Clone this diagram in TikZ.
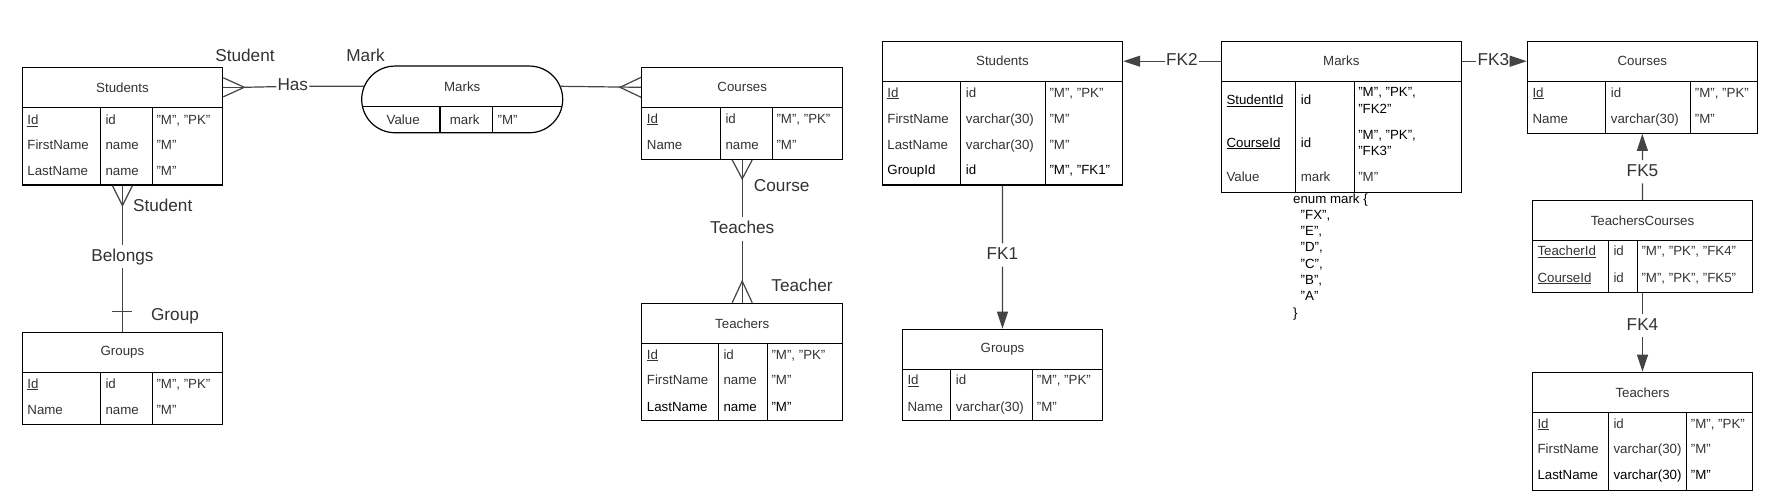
\documentclass[tikz,border=0pt]{standalone}
\usepackage{fontspec}
\setmainfont{Liberation Sans}
\usetikzlibrary{arrows.meta,shapes.misc,calc}
\definecolor{txt}{HTML}{333333}
\definecolor{lc}{HTML}{444444}
\newcommand\fsz{\fontsize{13.3}{16.3}\selectfont}
\newcommand\flb{\fontsize{17.2}{20}\selectfont}
\tikzset{
  hdr/.style={draw=black, line width=1.2pt, font=\fsz, text=txt, inner sep=0pt},
  bodybox/.style={draw=black, line width=1.2pt, inner sep=0pt},
  bline/.style={draw=black, line width=1.2pt},
  cell/.style={anchor=base west, font=\fsz, text=txt, inner sep=0pt},
  cellk/.style={anchor=base west, font=\fsz, text=black, inner sep=0pt},
  lbl/.style={font=\flb, text=txt, inner sep=0pt},
  onl/.style={font=\flb, text=txt, inner xsep=1pt, inner ysep=3pt, text height=13pt, text depth=4pt},
  conn/.style={draw=lc, line width=1.2pt},
  fk/.style={conn, -{Triangle[length=17pt,width=11pt]}},
}
% table: name, left, top, right, header bottom, bottom, div1, div2, title
\newcommand\tbl[9]{%
  \node[hdr, minimum width={#4-#2}, minimum height={#5-#3}] (#1h) at ({(#2+#4)/2},{(#3+#5)/2}) {#9};
  \node[bodybox, minimum width={#4-#2}, minimum height={#6-#5}] (#1b) at ({(#2+#4)/2},{(#5+#6)/2}) {};
  \draw[bline] (#7,#5) -- (#7,#6) (#8,#5) -- (#8,#6);
}
% row: name, y, x1, t1, x2, t2, x3, t3
\newcommand\rw[8]{%
  \node[cell] (#1a) at (#3,{#2+4.8}) {#4};
  \node[cell] (#1b) at (#5,{#2+4.8}) {#6};
  \node[cell] (#1c) at (#7,{#2+4.8}) {#8};
}
\newcommand\rwk[8]{%
  \node[cellk] (#1a) at (#3,{#2+4.8}) {#4};
  \node[cellk] (#1b) at (#5,{#2+4.8}) {#6};
  \node[cellk] (#1c) at (#7,{#2+4.8}) {#8};
}
\begin{document}
\begin{tikzpicture}[x=1pt,y=-1pt]
\useasboundingbox[fill=white] (0,0) rectangle (1781,501);

% ================= ER part =================
\tbl{sE}{22.2}{67.3}{222.7}{107.3}{185}{100.3}{152.3}{Students}
\rw{sE1}{120}{27.2}{\underline{Id}}{105.3}{id}{156.3}{"M", "PK"}
\rw{sE2}{145}{27.2}{FirstName}{105.3}{name}{156.3}{"M"}
\rw{sE3}{171}{27.2}{LastName}{105.3}{name}{156.3}{"M"}

\tbl{gE}{22.2}{332.7}{222.7}{372.3}{424.3}{100.3}{152.3}{Groups}
\rw{gE1}{383.3}{27.2}{\underline{Id}}{105.3}{id}{156.3}{"M", "PK"}
\rw{gE2}{409.3}{27.2}{Name}{105.3}{name}{156.3}{"M"}

\tbl{cE}{641.7}{67.3}{842.7}{107.3}{159.3}{720.3}{772.3}{Courses}
\rw{cE1}{118.3}{646.7}{\underline{Id}}{725.3}{id}{776.3}{"M", "PK"}
\rw{cE2}{144.3}{646.7}{Name}{725.3}{name}{776.3}{"M"}

\tbl{tE}{641.7}{303.3}{842.7}{343.3}{420.7}{718.3}{767.3}{Teachers}
\rw{tE1}{354.3}{646.7}{\underline{Id}}{723.3}{id}{771.3}{"M", "PK"}
\rw{tE2}{380}{646.7}{FirstName}{723.3}{name}{771.3}{"M"}
\rwk{tE3}{406.7}{646.7}{LastName}{723.3}{name}{771.3}{"M"}

% Marks pill
\node[draw=black, line width=1.2pt, rounded rectangle, minimum width=201, minimum height=66.7, inner sep=0pt] (mkE) at (462.2,99.4) {};
\node[font=\fsz, text=txt, inner sep=0pt] (mkEt) at (462.2,86.3) {Marks};
\draw[bline] (362.5,106.7) -- (561.9,106.7) (440,106.7) -- (440,132.7) (492.5,106.7) -- (492.5,132.7);
\rw{mkE1}{119.3}{386.5}{Value}{449.7}{mark}{497.5}{"M"}
\coordinate (mkEw) at (364.4,86.3);
\coordinate (mkEe) at (560.0,86.3);

% labels
\node[lbl] (lStu1) at (245,55) {Student};
\node[lbl] (lMark) at (365.5,55) {Mark};
\node[onl] (has) at (292.8,86.3) {Has};
\node[lbl] (lStu2) at (162.7,205) {Student};
\node[onl] (belongs) at (122.45,256.7) {Belongs};
\node[lbl] (lGrp) at (175,316.7) {Group};
\node[lbl] (lCrs) at (781.7,185.7) {Course};
\node[onl] (teaches) at (742.2,229) {Teaches};
\node[lbl] (lTch) at (802,285.7) {Teacher};

% Has relationship
\draw[conn] (sEh.east) -- ++(21,0) coordinate (cf1);
\draw[conn] ($(sEh.east)+(0,-9.5)$) -- (cf1) -- ($(sEh.east)+(0,9.5)$);
\draw[conn] (cf1) -- (has) -- (mkEw);
\draw[conn] (mkEe) -- (cEh.west);
\draw[conn] ($(cEh.west)+(0,-10)$) -- ($(cEh.west)+(-21,0)$) coordinate (cf2) -- ($(cEh.west)+(0,10)$);

% Belongs relationship
\draw[conn] (sEb.south) -- ++(0,20) coordinate (cf3);
\draw[conn] ($(sEb.south)+(-10,0)$) -- (cf3) -- ($(sEb.south)+(10,0)$);
\draw[conn] (cf3) -- (belongs) -- (gEh.north);
\draw[conn] ($(gEh.north)+(-10,-21)$) -- ($(gEh.north)+(10,-21)$);

% Teaches relationship
\draw[conn] (cEb.south) -- ++(0,19) coordinate (cf4);
\draw[conn] ($(cEb.south)+(-10,0)$) -- (cf4) -- ($(cEb.south)+(10,0)$);
\draw[conn] (cf4) -- (teaches) -- (tEh.north);
\draw[conn] (tEh.north) -- ++(0,-21.6) coordinate (cf5);
\draw[conn] ($(tEh.north)+(-10,0)$) -- (cf5) -- ($(tEh.north)+(10,0)$);

% ================= relational part =================
\tbl{sR}{882.2}{41.2}{1122.6}{81.2}{185}{960.7}{1045.3}{Students}
\rw{sR1}{92.3}{887.2}{\underline{Id}}{965.7}{id}{1049.3}{"M", "PK"}
\rw{sR2}{118.3}{887.2}{FirstName}{965.7}{varchar(30)}{1049.3}{"M"}
\rw{sR3}{144.3}{887.2}{LastName}{965.7}{varchar(30)}{1049.3}{"M"}
\rwk{sR4}{170}{887.2}{GroupId}{965.7}{id}{1049.3}{"M", "FK1"}

\tbl{mR}{1221.3}{41.2}{1461.3}{81.2}{192.3}{1295.6}{1354.1}{Marks}
\node[cellk] (mR1a) at (1226.3,104.8) {\underline{StudentId}};
\node[cellk] (mR1b) at (1300.6,104.8) {id};
\node[cellk] (mR1c) at (1358.1,96.5) {"M", "PK",};
\node[cellk] (mR1d) at (1358.1,113.1) {"FK2"};
\node[cellk] (mR2a) at (1226.3,147.1) {\underline{CourseId}};
\node[cellk] (mR2b) at (1300.6,147.1) {id};
\node[cellk] (mR2c) at (1358.1,139.1) {"M", "PK",};
\node[cellk] (mR2d) at (1358.1,155.5) {"FK3"};
\rw{mR3}{176.7}{1226.3}{Value}{1300.6}{mark}{1358.1}{"M"}

\node[anchor=north west, font=\fsz, text=black, align=left, inner sep=0pt] (enum) at (1292.9,193.2)
  {enum mark \{\\\hspace*{7.6pt}"FX",\\\hspace*{7.6pt}"E",\\\hspace*{7.6pt}"D",\\\hspace*{7.6pt}"C",\\\hspace*{7.6pt}"B",\\\hspace*{7.6pt}"A"\\\}};

\tbl{gR}{902.3}{329.3}{1102.7}{369.3}{420.7}{950.7}{1032.7}{Groups}
\rw{gR1}{380}{907.3}{\underline{Id}}{955.7}{id}{1036.7}{"M", "PK"}
\rw{gR2}{406.7}{907.3}{Name}{955.7}{varchar(30)}{1036.7}{"M"}

\tbl{cR}{1527.3}{41.2}{1757.3}{81.2}{133.3}{1605.7}{1690.7}{Courses}
\rw{cR1}{92.3}{1532.3}{\underline{Id}}{1610.7}{id}{1694.7}{"M", "PK"}
\rw{cR2}{118.3}{1532.3}{Name}{1610.7}{varchar(30)}{1694.7}{"M"}

\tbl{tcR}{1532.3}{200.7}{1752.7}{240.7}{292.3}{1608.3}{1637.3}{TeachersCourses}
\rw{tcR1}{251}{1537.3}{\underline{TeacherId}}{1613.3}{id}{1641.3}{"M", "PK", "FK4"}
\rw{tcR2}{277.3}{1537.3}{\underline{CourseId}}{1613.3}{id}{1641.3}{"M", "PK", "FK5"}

\tbl{tR}{1532.3}{372.3}{1752.7}{412.3}{490.7}{1608.3}{1686.7}{Teachers}
\rw{tR1}{423.3}{1537.3}{\underline{Id}}{1613.3}{id}{1690.7}{"M", "PK"}
\rw{tR2}{449}{1537.3}{FirstName}{1613.3}{varchar(30)}{1690.7}{"M"}
\rwk{tR3}{475}{1537.3}{LastName}{1613.3}{varchar(30)}{1690.7}{"M"}

% FK labels
\node[onl] (fk1) at (1002.4,255) {FK1};
\node[onl] (fk2) at (1181.9,61.2) {FK2};
\node[onl] (fk3) at (1493.3,61.2) {FK3};
\node[onl] (fk5) at (1642.5,171.7) {FK5};
\node[onl] (fk4) at (1642.5,325.7) {FK4};

\draw[fk] (mRh.west) -- (fk2) -- (sRh.east);
\draw[fk] (mRh.east) -- (fk3) -- (cRh.west);
\draw[fk] (sRb.south) -- (fk1) -- (gRh.north);
\draw[fk] (tcRh.north) -- (fk5) -- (cRb.south);
\draw[fk] (tcRb.south) -- (fk4) -- (tRh.north);
\end{tikzpicture}
\end{document}
